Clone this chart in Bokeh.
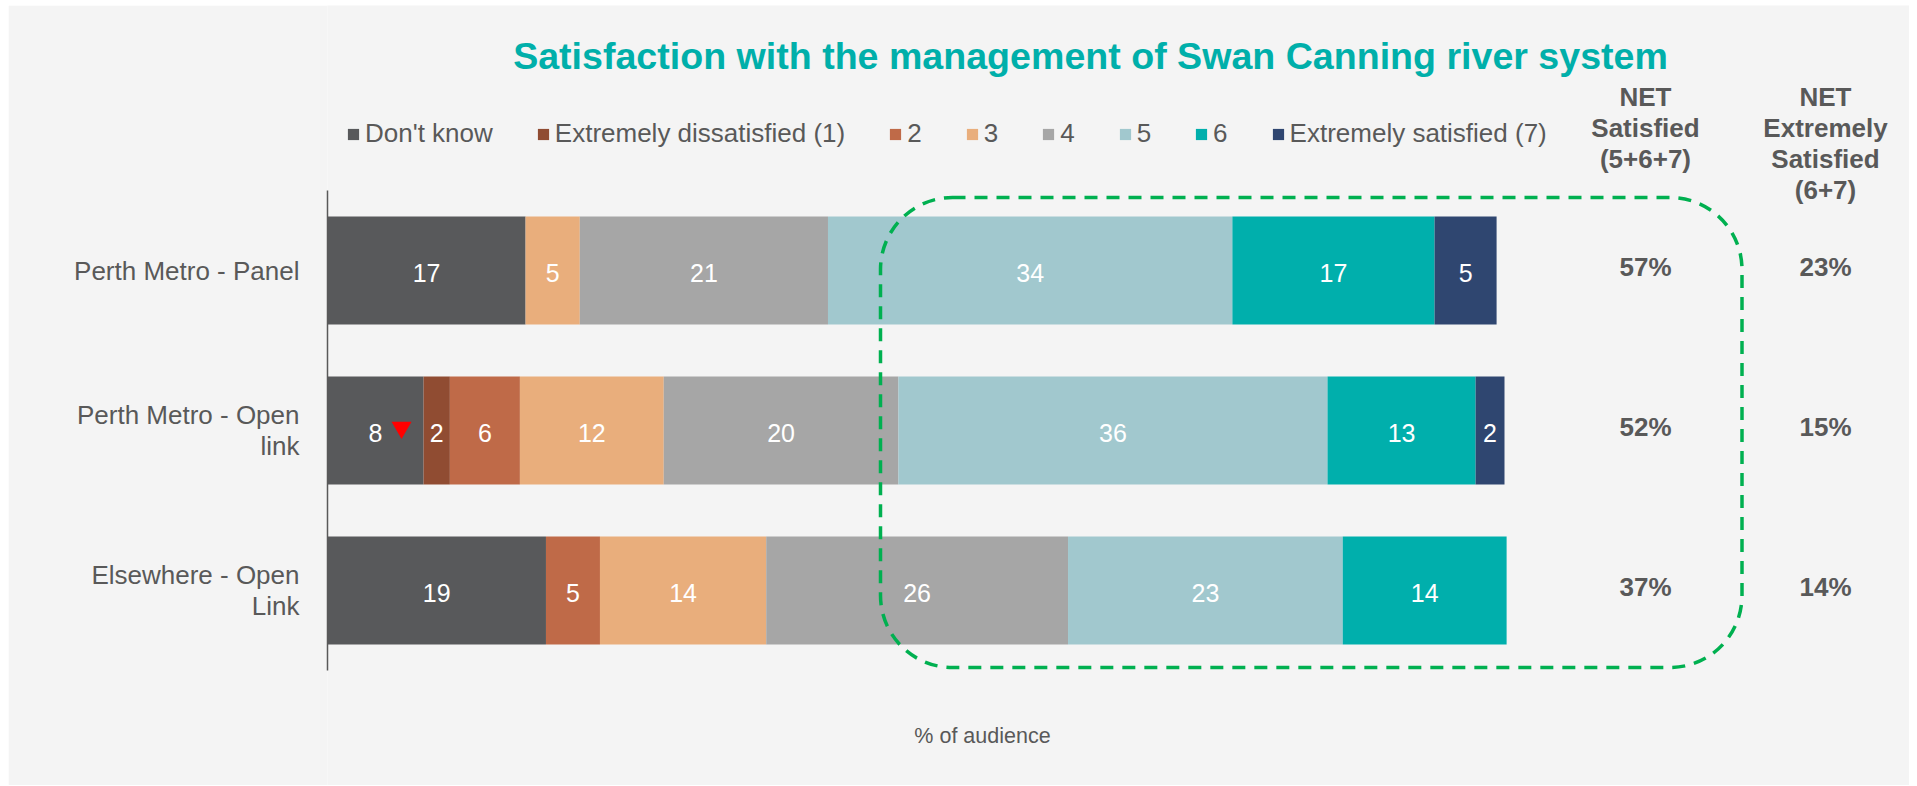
from bokeh.plotting import figure
from bokeh.models import (ColumnDataSource, Range1d, Legend, LegendItem,
                          Label, BoxAnnotation, FixedTicker)
from bokeh.core.properties import value
from bokeh.embed import file_html
from bokeh.resources import INLINE

# ---------------- data ----------------
categories = ["Perth Metro - Panel", "Perth Metro - Open\nlink", "Elsewhere - Open\nLink"]
series = ["Don't know", "Extremely dissatisfied (1)", "2", "3", "4", "5", "6",
          "Extremely satisfied (7)"]
dont_know = [16.8, 8.15, 18.53]
extremely_dissatisfied = [0.0, 2.23, 0.0]
rating_2 = [0.0, 5.94, 4.58]
rating_3 = [4.6, 12.2, 14.1]
rating_4 = [21.05, 19.9, 25.6]
rating_5 = [34.3, 36.4, 23.3]
rating_6 = [17.15, 12.56, 13.9]
extremely_satisfied = [5.26, 2.45, 0.0]
net_satisfied = [57, 52, 37]
net_extremely_satisfied = [23, 15, 14]
significantly_lower = [None, "Don't know", None]

series_values = [dont_know, extremely_dissatisfied, rating_2, rating_3, rating_4,
                 rating_5, rating_6, extremely_satisfied]
colors = ["#58595B", "#904C32", "#BF6A48", "#E9AE7C", "#A6A6A6", "#A1C8CE",
          "#00AFAC", "#2F4670"]

# ---------------- layout ----------------
FONT = "Liberation Sans"
BG = "#F4F4F4"
TXT = "#595959"
OFF_X, OFF_Y = 8, 5            # figure offset on the page (css margin)
W, H = 1901, 780
FRAME_LEFT_PAGE = 327
AXIS_BOTTOM_PAGE = 670
PX_PER_UNIT = 11.79
PX_PER_CAT = 160.0


def xd(px):
    return (px - FRAME_LEFT_PAGE) / PX_PER_UNIT


def yd(py):
    return (AXIS_BOTTOM_PAGE - py) / PX_PER_CAT


n = len(categories)
ypos = [n - i - 0.5 for i in range(n)]

p = figure(width=W, height=H, output_backend="svg", toolbar_location=None,
           x_range=Range1d(0, xd(OFF_X + W)),
           y_range=Range1d(yd(OFF_Y + H), yd(OFF_Y)),
           min_border_left=FRAME_LEFT_PAGE - OFF_X, min_border_top=0,
           min_border_bottom=0, min_border_right=0,
           background_fill_color=BG, border_fill_color=BG,
           outline_line_color=None)
p.margin = (OFF_Y, 0, 0, OFF_X)

data = {"y": ypos, "cat": categories}
for s, vals in zip(series, series_values):
    data[s] = vals
src = ColumnDataSource(data)

renderers = p.hbar_stack(series, y="y", height=0.675, fill_color=colors,
                         line_color=None, source=src)

# segment labels
lx, ly, lt = [], [], []
for i in range(n):
    left = 0.0
    for vals in series_values:
        v = vals[i]
        if v >= 1:
            lx.append(left + v / 2)
            ly.append(ypos[i])
            lt.append(f"{v:.0f}")
        left += v
p.text(x="x", y="y", text="t", source=ColumnDataSource(dict(x=lx, y=ly, t=lt)),
       text_align="center", text_baseline="middle", text_color="white",
       text_font=value(FONT), text_font_size="25px", y_offset=2)

# significance marker
tx, ty = [], []
for i in range(n):
    if significantly_lower[i]:
        k = series.index(significantly_lower[i])
        left = sum(series_values[j][i] for j in range(k))
        tx.append(left + series_values[k][i] / 2 + 26 / PX_PER_UNIT)
        ty.append(ypos[i] + 3 / PX_PER_CAT)
p.scatter(tx, ty, marker="inverted_triangle", size=20, color="#FF0000", line_color=None)

# NET columns
p.text(x=[xd(1645)] * n, y=ypos, text=[f"{v}%" for v in net_satisfied],
       text_align="center", text_baseline="middle", text_color=TXT,
       text_font=value(FONT), text_font_size="26px", text_font_style="bold", y_offset=-4)
p.text(x=[xd(1825)] * n, y=ypos, text=[f"{v}%" for v in net_extremely_satisfied],
       text_align="center", text_baseline="middle", text_color=TXT,
       text_font=value(FONT), text_font_size="26px", text_font_style="bold", y_offset=-4)

p.add_layout(Label(x=xd(1645), y=yd(81), text="NET\nSatisfied\n(5+6+7)",
                   text_align="center", text_baseline="top", text_color=TXT,
                   text_font=FONT, text_font_size="26px", text_font_style="bold",
                   text_line_height=1.04))
p.add_layout(Label(x=xd(1825), y=yd(81), text="NET\nExtremely\nSatisfied\n(6+7)",
                   text_align="center", text_baseline="top", text_color=TXT,
                   text_font=FONT, text_font_size="26px", text_font_style="bold",
                   text_line_height=1.04))

# title & axis title
p.add_layout(Label(x=xd(1090), y=yd(55),
                   text="Satisfaction with the management of Swan Canning river system",
                   text_align="center", text_baseline="alphabetic", text_color="#00AFAA",
                   text_font=FONT, text_font_size="37.6px", text_font_style="bold"))
p.add_layout(Label(x=xd(982), y=yd(735), text="% of audience", text_align="center",
                   text_baseline="alphabetic", text_color=TXT, text_font=FONT,
                   text_font_size="21.5px"))

# dashed highlight box
p.add_layout(BoxAnnotation(left=xd(880), right=xd(1741.5), top=yd(197), bottom=yd(667),
                           fill_color=None, fill_alpha=0, line_color="#00B050",
                           line_alpha=1.0, line_width=3.5, line_dash="13 9",
                           border_radius=72))

# legend
legend = Legend(items=[LegendItem(label=s, renderers=[r]) for s, r in zip(series, renderers)],
                orientation="horizontal",
                location=(346 - FRAME_LEFT_PAGE, OFF_Y + H - 149),
                glyph_width=14, glyph_height=14, label_standoff=5, spacing=43,
                padding=0, margin=0, label_width=0,
                label_text_font=FONT, label_text_font_size="26px", label_text_color=TXT,
                border_line_color=None, background_fill_alpha=0)
p.add_layout(legend)

# axes
p.xaxis.visible = False
p.grid.visible = False
yax = p.yaxis[0]
yax.ticker = FixedTicker(ticks=ypos)
yax.major_label_overrides = {y: c for y, c in zip(ypos, categories)}
yax.bounds = (0, n)
yax.major_tick_line_color = None
yax.minor_tick_line_color = None
yax.axis_line_color = TXT
yax.axis_line_width = 1.5
yax.major_label_text_font = FONT
yax.major_label_text_font_size = "26px"
yax.major_label_text_color = TXT
yax.major_label_text_line_height = 1.04
yax.major_label_standoff = 22

open("out.html", "w").write(file_html(p, INLINE))
